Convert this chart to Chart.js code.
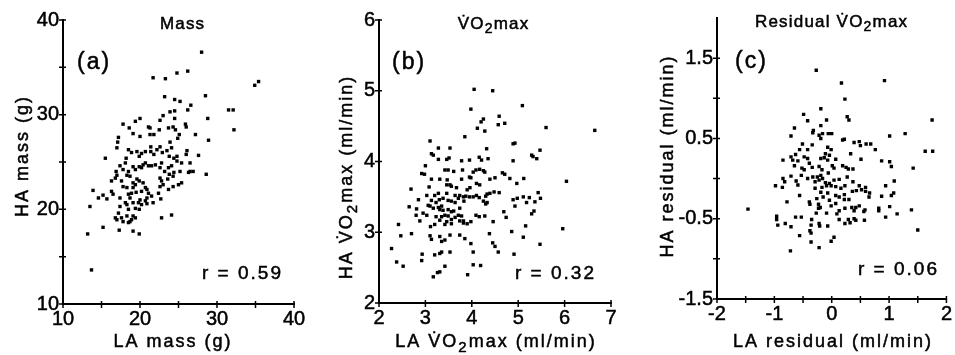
<!DOCTYPE html>
<html>
<head>
<meta charset="utf-8">
<script src="https://cdn.jsdelivr.net/npm/chart.js@4"></script>
<style>
  html, body { margin: 0; padding: 0; background: #fff; }
  #wrap { position: relative; width: 955px; height: 355px; }
  #wrap canvas { position: absolute; top: 0; }
</style>
</head>
<body>
<div id="wrap">
  <canvas id="chart-a" width="318" height="355" style="left:0"></canvas>
  <canvas id="chart-b" width="318" height="355" style="left:318px"></canvas>
  <canvas id="chart-c" width="319" height="355" style="left:636px"></canvas>
</div>
<script>
const FONT = "'Liberation Sans', Arial, Helvetica, sans-serif";
Chart.defaults.font.family = FONT;
Chart.defaults.color = "#000";

// labelled ticks (the others are drawn as unlabelled minor ticks)
const massTickLabels = [10, 20, 30, 40];
const vo2TickLabels = [2, 3, 4, 5, 6, 7];
const resXTickLabels = [-2, -1, 0, 1, 2];
const resYTickLabels = [-1.5, -0.5, 0.5, 1.5];

// (a) mass, g : [LA, HA]
const massPoints = [
  [28.0,36.6],[21.7,33.9],[23.3,33.8],[24.8,34.4],[26.2,34.6],[34.9,33.1],[35.4,33.5],
  [23.2,31.9],[24.5,31.6],[25.2,31.4],[26.2,30.5],[26.6,31.0],[28.5,32.0],[31.5,30.5],[32.1,30.5],
  [23.9,30.3],[24.5,30.4],[22.6,29.4],[23.0,29.9],[24.5,29.6],[20.0,29.6],[19.4,29.3],[17.8,29.0],[18.6,28.6],
  [21.1,28.7],[21.3,28.6],[22.5,28.4],[23.7,28.6],[24.3,28.7],[25.9,29.0],[26.0,28.7],[28.8,29.6],[32.2,28.4],
  [19.1,28.0],[20.0,27.7],[21.3,27.9],[21.8,27.9],[24.6,28.4],[25.1,27.9],[24.9,27.5],[27.2,27.9],
  [17.2,27.6],[17.1,27.1],[17.0,26.5],[23.9,27.1],[28.9,27.3],
  [22.6,26.6],[21.4,26.6],[22.2,26.3],[23.5,26.2],[24.1,26.5],
  [18.5,26.3],[18.9,26.0],[19.6,26.1],[19.9,25.6],[20.2,25.9],[20.7,26.1],[21.4,26.1],[21.8,25.8],[22.9,26.0],[23.8,25.6],
  [24.4,25.4],[24.8,25.6],[26.0,25.8],[26.1,26.2],[27.6,25.7],
  [15.5,25.4],[18.2,25.4],[17.4,24.6],[18.1,24.9],
  [20.7,24.9],[21.1,24.6],[21.5,24.6],[22.0,24.7],[22.8,24.9],[23.7,24.4],[24.1,24.6],[24.8,25.1],[25.4,24.9],[26.5,24.9],
  [16.9,24.0],[17.8,24.2],[18.5,24.0],[19.1,24.5],[19.4,24.2],[19.9,24.5],[20.2,24.4],[20.4,24.7],
  [22.6,24.4],[23.2,24.0],[23.8,23.7],[24.4,23.9],[25.2,24.0],[26.3,23.9],[26.5,24.0],[26.9,24.0],[28.6,23.7],
  [16.3,23.0],[16.8,23.3],[17.0,23.6],[17.6,23.0],[18.3,23.6],[18.7,23.5],[19.1,22.8],[19.4,22.6],[19.6,23.2],[19.9,23.0],[20.4,22.8],[20.7,22.3],
  [22.6,23.3],[22.8,23.0],[23.0,22.6],[23.6,23.2],[24.3,23.5],[24.3,22.4],[25.0,22.6],[25.4,22.8],
  [13.9,22.0],[15.2,21.5],[14.6,21.2],[16.3,21.9],[16.5,21.6],[17.8,22.4],[18.3,22.3],[18.5,21.6],
  [19.1,22.3],[19.5,21.8],[20.2,21.9],[20.9,22.1],[21.1,21.7],[22.6,22.4],[22.4,21.7],[23.7,22.1],
  [15.7,21.1],[17.4,21.2],[18.1,20.7],[18.7,21.2],[18.9,21.7],[20.0,21.0],[20.7,20.9],[20.9,21.2],[21.5,21.4],[22.7,21.1],
  [13.5,20.3],[17.4,20.3],[18.3,20.5],[19.1,20.7],[19.8,20.7],[20.2,20.5],[20.9,20.6],
  [17.2,19.6],[18.5,20.0],[19.4,20.1],[19.9,20.0],[21.7,20.7],
  [16.8,19.1],[17.0,18.9],[17.6,19.1],[17.8,18.7],[18.3,19.3],[18.5,18.6],[18.7,18.7],[18.9,18.9],[19.1,19.3],[19.4,19.1],
  [22.8,19.1],[24.1,19.4],
  [13.2,17.4],[15.2,18.1],[17.3,17.8],[19.1,17.7],[19.9,17.4],
  [13.7,13.6],
];

// (b) VO2max, ml/min : [LA, HA]
const vo2Points = [
  [4.05,5.02],[4.45,5.00],[3.98,4.74],[5.09,4.79],[4.59,4.64],[4.20,4.56],[4.25,4.60],[4.57,4.52],[4.71,4.54],
  [5.60,4.48],[6.65,4.44],[4.12,4.47],[4.28,4.43],[3.85,4.35],[3.10,4.29],[4.89,4.25],[4.93,4.26],
  [3.28,4.19],[3.53,4.19],[4.32,4.18],[5.47,4.16],[5.29,4.09],[5.32,4.07],[5.40,4.04],[3.13,4.11],[3.17,4.09],
  [3.28,4.03],[3.46,4.03],[3.51,4.05],[3.78,4.01],[3.95,4.02],[4.16,4.06],[4.21,4.02],[4.35,4.04],[4.89,4.01],
  [3.00,3.94],[3.42,3.88],[3.49,3.88],[3.61,3.86],[3.80,3.88],[4.03,3.85],[4.09,3.88],[4.17,3.89],[4.25,3.87],[4.28,3.85],
  [2.92,3.83],[2.98,3.82],[3.95,3.78],[3.98,3.77],[3.78,3.75],[3.13,3.75],[3.31,3.75],[3.47,3.74],
  [4.39,3.75],[4.50,3.77],[4.66,3.84],[4.71,3.82],[4.82,3.76],[4.97,3.69],[5.12,3.76],[6.04,3.72],
  [2.69,3.61],[3.08,3.64],[3.46,3.67],[3.53,3.67],[3.56,3.65],[3.67,3.63],[3.90,3.60],[3.96,3.63],[4.10,3.69],[4.17,3.67],
  [4.39,3.55],[4.48,3.57],[4.59,3.56],[3.46,3.55],[3.64,3.52],[3.74,3.52],[3.82,3.50],[3.87,3.51],[3.95,3.50],
  [2.85,3.46],[3.03,3.52],[3.20,3.52],[3.28,3.55],[3.38,3.48],[4.03,3.50],[4.10,3.52],[4.16,3.49],[4.30,3.51],[4.33,3.54],
  [5.43,3.56],[5.48,3.48],[4.89,3.46],[4.98,3.48],[5.11,3.50],[5.24,3.49],
  [3.30,3.46],[3.13,3.45],[3.23,3.42],[3.35,3.37],[3.49,3.45],[3.56,3.44],[3.64,3.42],[3.71,3.48],[3.83,3.44],
  [4.25,3.44],[4.30,3.40],[4.33,3.42],[5.18,3.42],[5.36,3.43],[4.93,3.37],
  [2.65,3.36],[2.81,3.33],[3.06,3.38],[3.10,3.37],[3.17,3.34],[3.28,3.35],[3.31,3.32],[3.38,3.31],[3.49,3.32],[3.56,3.29],[3.61,3.30],[3.74,3.34],
  [2.95,3.27],[2.80,3.24],[3.03,3.24],[3.23,3.22],[3.35,3.22],[3.42,3.24],[3.49,3.23],[3.56,3.18],[3.64,3.21],[3.71,3.24],[3.78,3.23],[3.82,3.16],
  [4.09,3.24],[4.16,3.22],[4.28,3.23],[4.69,3.29],[4.74,3.21],[5.29,3.26],[5.34,3.30],
  [2.88,3.16],[3.11,3.08],[3.20,3.11],[3.31,3.17],[3.42,3.11],[3.46,3.15],[3.56,3.12],[3.74,3.16],[3.82,3.13],[3.90,3.12],[3.98,3.15],[4.46,3.15],
  [2.42,3.11],[2.70,2.98],[2.47,2.95],[5.16,3.09],[5.96,3.05],
  [3.10,2.95],[3.13,2.90],[3.31,2.94],[3.35,2.87],[3.42,2.89],[3.53,2.96],[3.74,2.96],[3.85,2.91],[4.38,2.98],[4.86,3.01],[5.11,2.93],[3.98,2.84],
  [2.27,2.77],[2.93,2.69],[2.92,2.60],[3.20,2.68],[3.31,2.70],[3.35,2.72],[3.53,2.72],[4.03,2.72],[4.45,2.85],[4.50,2.80],[4.57,2.72],[4.91,2.69],[5.47,2.83],
  [2.38,2.58],[2.52,2.52],[3.17,2.37],[3.26,2.43],[3.31,2.44],[3.42,2.52],[3.91,2.40],[4.03,2.54],[4.19,2.53],
];

// (c) residual VO2max, ml/min : [LA, HA]
const residualPoints = [
  [-0.27,1.35],[0.92,1.22],[0.17,1.19],[0.23,0.99],[1.75,0.73],
  [-0.19,0.87],[-0.49,0.80],[-0.42,0.72],[-0.09,0.73],[0.27,0.77],[0.30,0.73],
  [-0.65,0.63],[-0.19,0.66],[-0.32,0.60],[-0.33,0.57],[-0.22,0.54],[-0.16,0.56],[-0.06,0.56],[0.00,0.56],
  [-0.71,0.53],[-0.19,0.50],[1.01,0.53],[1.28,0.56],
  [0.22,0.49],[0.19,0.48],[0.39,0.45],[0.48,0.46],[0.50,0.41],[0.60,0.43],[0.68,0.43],[0.76,0.36],
  [-0.51,0.43],[-0.34,0.42],[-0.42,0.36],[-0.56,0.36],[-0.07,0.39],[-0.01,0.36],[-0.11,0.31],[-0.04,0.29],
  [1.63,0.34],[1.76,0.34],
  [-0.85,0.23],[-0.71,0.27],[-0.63,0.30],[-0.68,0.23],[-0.59,0.22],[-0.48,0.27],[-0.42,0.25],[-0.39,0.19],
  [-0.19,0.25],[-0.13,0.26],[-0.07,0.23],[0.07,0.24],[0.33,0.31],[0.51,0.24],
  [0.87,0.22],[1.01,0.21],[1.04,0.15],[1.42,0.13],
  [-0.65,0.16],[-0.52,0.13],[-0.48,0.11],[-0.34,0.14],[-0.22,0.15],[-0.17,0.11],
  [0.01,0.16],[0.04,0.13],[0.19,0.16],[0.25,0.14],[0.29,0.12],[0.37,0.12],
  [-0.71,0.03],[-0.53,0.04],[-0.42,0.00],[-0.33,0.02],[-0.25,0.02],[-0.19,0.04],[-0.16,0.00],[-0.06,0.07],
  [-0.29,-0.04],[-0.22,-0.02],[-0.11,-0.05],[-0.04,-0.06],[0.04,-0.02],[0.13,-0.01],[0.27,0.02],[0.37,-0.04],
  [-0.85,0.00],[-0.82,-0.04],[-0.86,-0.11],[-0.98,-0.09],[-0.62,-0.03],[-0.59,-0.08],
  [-0.29,-0.12],[-0.17,-0.11],[-0.09,-0.09],[-0.01,-0.09],[0.07,-0.10],[0.16,-0.12],[0.23,-0.09],
  [0.48,-0.09],[0.52,-0.14],[0.59,-0.11],[0.94,-0.09],[1.09,-0.03],
  [-0.19,-0.17],[-0.07,-0.18],[0.07,-0.21],[0.13,-0.23],[0.22,-0.20],
  [0.36,-0.16],[0.43,-0.15],[0.59,-0.16],[0.65,-0.23],[0.66,-0.18],
  [-0.56,-0.21],[-0.78,-0.29],
  [-0.39,-0.29],[-0.38,-0.32],[-0.26,-0.25],[-0.23,-0.32],[-0.15,-0.23],[-0.04,-0.27],
  [-0.01,-0.34],[0.07,-0.31],[0.22,-0.26],[0.30,-0.26],[0.42,-0.36],[0.48,-0.34],
  [0.87,-0.22],[1.04,-0.21],[1.08,-0.18],
  [0.13,-0.40],[0.23,-0.37],[0.35,-0.36],[0.39,-0.40],[0.56,-0.41],[0.58,-0.39],
  [0.82,-0.37],[0.82,-0.40],[1.01,-0.35],[1.39,-0.39],
  [-0.20,-0.36],[-0.09,-0.43],[-0.23,-0.37],[-0.27,-0.43],
  [-0.63,-0.48],[-0.53,-0.48],[-0.96,-0.47],[-0.96,-0.51],[0.09,-0.44],
  [0.13,-0.51],[0.29,-0.51],[0.39,-0.50],[0.42,-0.52],[0.57,-0.52],[0.94,-0.48],[1.14,-0.44],
  [-0.94,-0.58],[-0.81,-0.56],[-0.71,-0.60],[-0.35,-0.51],[-0.36,-0.58],
  [-0.22,-0.56],[-0.21,-0.59],[-0.07,-0.59],[0.23,-0.56],[0.32,-0.55],[1.50,-0.64],
  [-0.56,-0.71],[-0.38,-0.65],[-0.36,-0.68],[0.04,-0.73],[-0.01,-0.78],
  [-0.36,-0.79],[-0.22,-0.86],[-0.72,-0.90],[-1.46,-0.38],
];

const VO2 = [{ t: "V\u0307O" }, { t: "2", sub: true }, { t: "max" }];

// text per panel, canvas-local positions
const panels = {
  "chart-a": {
    title: [{ t: "Mass" }], titleX: 182, titleY: 24,
    tag: "(a)", tagX: 77, tagY: 63,
    r: "r = 0.59", rX: 202, rY: 274,
    xTitle: [{ t: "LA mass (g)" }], xTitleX: 172,
    yTitle: [{ t: "HA mass (g)" }], yTitleX: 23, yTitleY: 157,
  },
  "chart-b": {
    title: VO2, titleX: 175, titleY: 24,
    tag: "(b)", tagX: 74, tagY: 63,
    r: "r = 0.32", rX: 197, rY: 274,
    xTitle: [{ t: "LA " }, ...VO2, { t: " (ml/min)" }], xTitleX: 177,
    yTitle: [{ t: "HA " }, ...VO2, { t: " (ml/min)" }], yTitleX: 29, yTitleY: 178,
  },
  "chart-c": {
    title: [{ t: "Residual " }, ...VO2], titleX: 195, titleY: 22,
    tag: "(c)", tagX: 99, tagY: 62,
    r: "r = 0.06", rX: 222, rY: 270,
    xTitle: [{ t: "LA residual (ml/min)" }], xTitleX: 196,
    yTitle: [{ t: "HA residual (ml/min)" }], yTitleX: 32, yTitleY: 157,
    skipTopTick: true,
  },
};

function unitsOf(str) {
  const out = [];
  for (const ch of str) {
    if (/[\u0300-\u036f]/.test(ch) && out.length) out[out.length - 1] += ch;
    else out.push(ch);
  }
  return out;
}

// letter-spaced text with optional lowered "2"; a thin stroke mimics the heavy print
function drawRich(ctx, segs, x, y, size, spacing, align) {
  const pieces = [];
  let w = 0;
  segs.forEach((seg) => {
    const fs = seg.sub ? Math.round(size * 0.85) : size;
    ctx.font = `${fs}px ${FONT}`;
    unitsOf(seg.t).forEach((u) => {
      pieces.push({ u, fs, x: w, dy: seg.sub ? size * 0.3 : 0 });
      w += ctx.measureText(u).width + spacing;
    });
  });
  w -= spacing;
  const x0 = align === "center" ? x - w / 2 : x;
  ctx.textAlign = "left";
  ctx.textBaseline = "middle";
  ctx.strokeStyle = "#000";
  ctx.lineWidth = 0.5;
  pieces.forEach((p) => {
    ctx.font = `${p.fs}px ${FONT}`;
    ctx.fillText(p.u, x0 + p.x, y + p.dy);
    ctx.strokeText(p.u, x0 + p.x, y + p.dy);
  });
}

const panelText = {
  id: "panelText",
  afterDraw(chart) {
    const p = panels[chart.canvas.id];
    const ctx = chart.ctx;
    ctx.save();
    ctx.fillStyle = "#000";
    drawRich(ctx, p.title, p.titleX, p.titleY, 17, 1.2, "center");
    drawRich(ctx, [{ t: p.tag }], p.tagX, p.tagY, 23, 2, "left");
    drawRich(ctx, [{ t: p.r }], p.rX, p.rY, 19, 2, "left");
    drawRich(ctx, p.xTitle, p.xTitleX, 342, 18, 2, "center");
    ctx.translate(p.yTitleX, p.yTitleY);
    ctx.rotate(-Math.PI / 2);
    drawRich(ctx, p.yTitle, 0, 0, 18, 2, "center");
    ctx.restore();
  },
};

// tick marks that cross the axis line
const crossTicks = {
  id: "crossTicks",
  afterDraw(chart) {
    const p = panels[chart.canvas.id];
    const { x, y } = chart.scales;
    const ctx = chart.ctx;
    ctx.save();
    ctx.strokeStyle = "#000";
    ctx.lineWidth = 1.5;
    ctx.beginPath();
    x.ticks.forEach((t) => {
      const px = x.getPixelForValue(t.value);
      ctx.moveTo(px, x.top - 3);
      ctx.lineTo(px, x.top + 4);
    });
    y.ticks.forEach((t) => {
      if (p.skipTopTick && t.value >= y.max) return;
      const py = y.getPixelForValue(t.value);
      ctx.moveTo(y.right - 4, py);
      ctx.lineTo(y.right + 3, py);
    });
    ctx.stroke();
    ctx.restore();
  },
};

function axis(position, min, max, step, labels, size) {
  return {
    type: "linear",
    position,
    min,
    max,
    grid: { display: false, drawTicks: false },
    border: { display: true, color: "#000", width: 2 },
    ticks: {
      stepSize: step,
      autoSkip: false,
      maxRotation: 0,
      padding: position === "left" ? 4 : 3,
      color: "#000",
      textStrokeColor: "#000",
      textStrokeWidth: 0.5,
      font: { size: 20 },
      callback: (v) => (labels.includes(v) ? String(v) : ""),
    },
    afterFit: (s) => {
      if (position === "left") s.width = size;
      else s.height = size;
    },
  };
}

function makeChart(id, points, xAxis, yAxis, padding) {
  return new Chart(document.getElementById(id), {
    type: "scatter",
    data: {
      datasets: [{
        data: points.map(([x, y]) => ({ x, y })),
        pointStyle: "rect",
        pointRadius: 2.4,
        pointHoverRadius: 2.4,
        backgroundColor: "#000",
        borderWidth: 0,
      }],
    },
    options: {
      responsive: false,
      animation: false,
      devicePixelRatio: 1,
      events: [],
      layout: { padding },
      plugins: { legend: { display: false }, tooltip: { enabled: false } },
      scales: { x: xAxis, y: yAxis },
    },
    plugins: [crossTicks, panelText],
  });
}

makeChart("chart-a", massPoints,
  axis("bottom", 10, 40, 5, massTickLabels, 51),
  axis("left", 10, 40, 5, massTickLabels, 63),
  { left: 0, top: 20, right: 24, bottom: 0 });

makeChart("chart-b", vo2Points,
  axis("bottom", 2, 7, 1, vo2TickLabels, 52),
  axis("left", 2, 6, 1, vo2TickLabels, 61),
  { left: 0, top: 20, right: 25, bottom: 0 });

makeChart("chart-c", residualPoints,
  axis("bottom", -2, 2, 0.5, resXTickLabels, 56),
  axis("left", -1.5, 2, 0.5, resYTickLabels, 81),
  { left: 0, top: 18, right: 7, bottom: 0 });
</script>
</body>
</html>
